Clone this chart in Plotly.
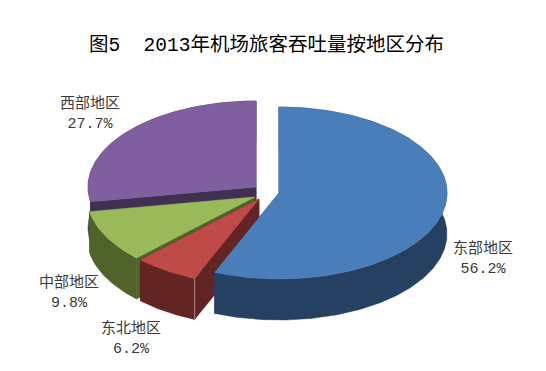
import numpy as np
import plotly.graph_objects as go

# Data
regions = ["东部地区", "东北地区", "中部地区", "西部地区"]
shares = [56.2, 6.2, 9.8, 27.7]
title_text = "图5\u00a0\u00a02013年机场旅客吞吐量按地区分布"

# Style and layout (axes run in window pixels; the page body has an 8 px margin)
top_colors = ["#4A7EBB", "#BE4B48", "#9ABA59", "#7F5F9F"]
dark_colors = ["#254061", "#632523", "#4F6228", "#403152"]
edge_colors = [None, "#A88A88", None, None]
centers = [(279, 193), (259, 199), (255, 197), (256, 187)]
label_pos = [(483, 259), (131, 339), (69, 293), (90, 114)]
RX, RY, DEPTH = 168, 86, 41
PAGE_MARGIN, FIG_W, FIG_H = 8, 530, 355
FONT = "Liberation Mono, Noto Sans CJK SC, sans-serif"

fractions = np.array(shares) / sum(shares)
ends = np.cumsum(fractions) * 2 * np.pi
starts = ends - fractions * 2 * np.pi


def arc(c, a0, a1):
    t = np.linspace(a0, a1, max(int((a1 - a0) * 60), 2))
    return c[0] + RX * np.sin(t), c[1] - RY * np.cos(t)


def poly(fig, x, y, color):
    fig.add_trace(go.Scatter(
        x=np.append(x, x[0]), y=np.append(y, y[0]), mode="lines", fill="toself",
        fillcolor=color, line=dict(color=color, width=0.5),
        hoverinfo="skip", showlegend=False,
    ))


def radial(fig, c, a, color):
    px = c[0] + RX * np.sin(a)
    py = c[1] - RY * np.cos(a)
    poly(fig, np.array([c[0], px, px, c[0]]),
         np.array([c[1], py, py + DEPTH, c[1] + DEPTH]), color)


fig = go.Figure()
# painter's order: back (west) to front (east)
for i in [3, 2, 1, 0]:
    c = centers[i]
    a0, a1 = starts[i], ends[i]
    radial(fig, c, a0, dark_colors[i])
    radial(fig, c, a1, dark_colors[i])
    ax, ay = arc(c, a0, a1)
    poly(fig, np.concatenate([ax, ax[::-1]]),
         np.concatenate([ay, ay[::-1] + DEPTH]), dark_colors[i])
    poly(fig, np.concatenate([[c[0]], ax]), np.concatenate([[c[1]], ay]), top_colors[i])
    if edge_colors[i]:
        fig.add_trace(go.Scatter(x=[ax[0], ax[0]], y=[ay[0], ay[0] + DEPTH], mode="lines",
                                 line=dict(color=edge_colors[i], width=1),
                                 hoverinfo="skip", showlegend=False))

for name, share, (lx, ly) in zip(regions, shares, label_pos):
    fig.add_annotation(x=lx, y=ly, xref="x", yref="y", showarrow=False,
                       text=f"{name}<br>{share}%", align="center",
                       font=dict(family=FONT, size=15, color="#3a3a3a"))

fig.add_annotation(x=266, y=45, xref="x", yref="y", showarrow=False, text=title_text,
                   font=dict(family=FONT, size=19.5, color="#000000"))

fig.update_layout(
    width=FIG_W, height=FIG_H, margin=dict(l=0, r=0, t=0, b=0),
    paper_bgcolor="white", plot_bgcolor="white", showlegend=False,
    xaxis=dict(range=[PAGE_MARGIN, PAGE_MARGIN + FIG_W], visible=False, fixedrange=True),
    yaxis=dict(range=[PAGE_MARGIN + FIG_H, PAGE_MARGIN], visible=False, fixedrange=True),
)
fig.write_html("out.html", config={"displayModeBar": False})
